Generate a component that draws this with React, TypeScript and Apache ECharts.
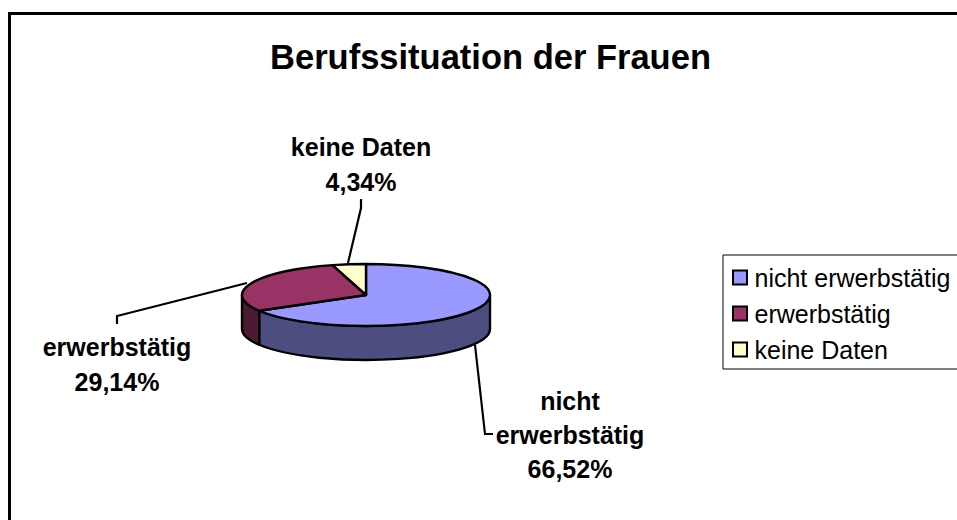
import React, { useEffect, useRef } from "react";
import * as echarts from "echarts";

const title = "Berufssituation der Frauen";
const categories = ["nicht erwerbstätig", "erwerbstätig", "keine Daten"];
const shares = [66.52, 29.14, 4.34];
const topColors = ["#9999FF", "#993366", "#FFFFCC"];
const sideColors = ["#4D4D80", "#4D1A33", "#808066"];
const labelLines = [
  ["nicht", "erwerbstätig"],
  ["erwerbstätig"],
  ["keine Daten"],
];

const FONT = '"Liberation Sans", Arial, sans-serif';
const CX = 366, CY = 295, RX = 124, RY = 31, DEPTH = 34;

const fmt = (v: number) => v.toFixed(2).replace(".", ",") + "%";
const px = (t: number) => CX + RX * Math.sin(t);
const py = (t: number) => CY - RY * Math.cos(t);

function topPath(a: number, b: number) {
  const large = b - a > Math.PI ? 1 : 0;
  return `M${CX} ${CY}L${px(a)} ${py(a)}A${RX} ${RY} 0 ${large} 1 ${px(b)} ${py(b)}Z`;
}
function sidePath(a: number, b: number) {
  const s = Math.max(a, Math.PI / 2), e = Math.min(b, (3 * Math.PI) / 2);
  if (e <= s) return null;
  return `M${px(s)} ${py(s)}A${RX} ${RY} 0 0 1 ${px(e)} ${py(e)}L${px(e)} ${py(e) + DEPTH}A${RX} ${RY} 0 0 0 ${px(s)} ${py(s) + DEPTH}Z`;
}

const leaders = [
  [[475, 345], [485, 434], [493, 434]],
  [[247, 283], [117, 316], [117, 324]],
  [[348, 263], [361, 208], [361, 199]],
];
const labelPos = [
  [570, 384],
  [117, 329.5],
  [361, 129.5],
];

export default function App() {
  const ref = useRef<HTMLDivElement>(null);
  useEffect(() => {
    document.body.style.margin = "0";
    const chart = echarts.init(ref.current!, null, { renderer: "svg" });
    const total = shares.reduce((a, b) => a + b, 0);
    const makeRender = (i: number) => (_params: any, api: any) => {
      const before = shares.slice(0, i).reduce((a, b) => a + b, 0);
      const a = (before / total) * 2 * Math.PI;
      const b = ((before + api.value(0)) / total) * 2 * Math.PI;
      const stroke = { stroke: "#000", lineWidth: 2.4, lineJoin: "round" };
      const children: any[] = [];
      const side = sidePath(a, b);
      if (side) children.push({ type: "path", shape: { pathData: side }, style: { fill: sideColors[i], ...stroke } });
      children.push({ type: "path", shape: { pathData: topPath(a, b) }, style: { fill: topColors[i], ...stroke } });
      children.push({
        type: "polyline",
        shape: { points: leaders[i] },
        style: { fill: "none", stroke: "#000", lineWidth: 2.2 },
      });
      const lines = [...labelLines[i], fmt(api.value(0))];
      children.push({
        type: "text",
        x: labelPos[i][0],
        y: labelPos[i][1],
        style: {
          text: lines.join("\n"),
          font: `bold 25px ${FONT}`,
          lineHeight: i === 0 ? 34 : 35,
          fill: "#000",
          align: "center",
          verticalAlign: "top",
        },
      });
      return { type: "group", children };
    };
    chart.setOption({
      animation: false,
      backgroundColor: "#fff",
      title: {
        text: title,
        left: 485.5,
        top: 34,
        textAlign: "center",
        textStyle: { fontFamily: FONT, fontWeight: "bold", fontSize: 34.5, color: "#000" },
      },
      graphic: [
        {
          type: "rect",
          z: -1,
          shape: { x: 9.5, y: 13.5, width: 1100, height: 700 },
          style: { fill: "none", stroke: "#000", lineWidth: 3 },
        },
      ],
      legend: {
        orient: "vertical",
        left: 723,
        top: 255,
        padding: [10, 30, 7, 9],
        itemGap: 11,
        itemWidth: 14,
        itemHeight: 14,
        icon: "rect",
        borderColor: "#000",
        borderWidth: 1,
        backgroundColor: "#fff",
        selectedMode: false,
        data: categories,
        textStyle: { fontFamily: FONT, fontSize: 25, color: "#000", padding: [0, 0, 0, 2.5] },
        itemStyle: { borderColor: "#000", borderWidth: 2 },
      },
      series: categories.map((name, i) => ({
        type: "custom",
        name,
        coordinateSystem: "none",
        silent: true,
        data: [[shares[i]]],
        itemStyle: { color: topColors[i] },
        renderItem: makeRender(i),
      })),
    });
    return () => chart.dispose();
  }, []);
  return <div ref={ref} style={{ width: 957, height: 520 }} />;
}
